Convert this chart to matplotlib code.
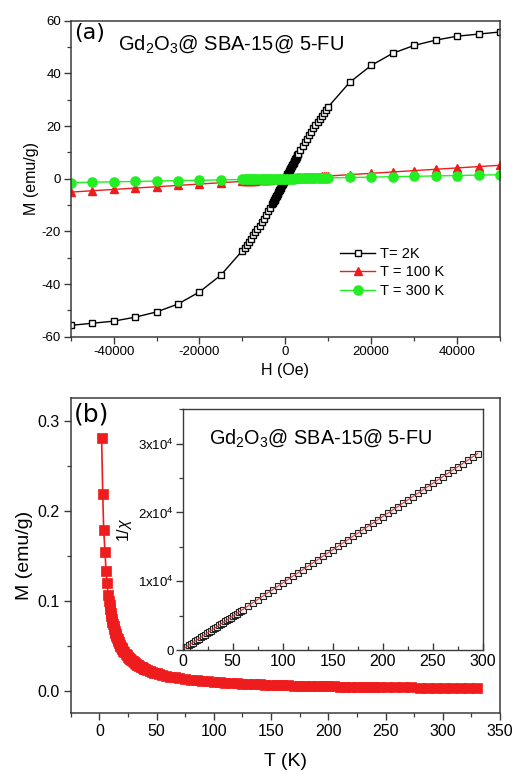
import matplotlib
matplotlib.use("Agg")
import matplotlib.pyplot as plt
from matplotlib.ticker import MultipleLocator, FixedLocator, FixedFormatter
import numpy as np

plt.rcParams['font.family'] = ['Liberation Sans', 'DejaVu Sans']
plt.rcParams['mathtext.fontset'] = 'custom'
plt.rcParams['mathtext.rm'] = 'Liberation Sans'
plt.rcParams['mathtext.it'] = 'Liberation Sans:italic'
plt.rcParams['axes.unicode_minus'] = False

#M-H loop at 2 K (Oe, emu/g)
H_2K = [-50000, -45000, -40000, -35000, -30000, -25000, -20000, -15000,
        -10000, -9500, -9000, -8500, -8000, -7500, -7000, -6500, -6000, -5500, -5000, -4500, -4000, -3500,
        -3000, -2900, -2800, -2700, -2600, -2500, -2400, -2300, -2200, -2100,
        -2000, -1900, -1800, -1700, -1600, -1500, -1400, -1300, -1200, -1100,
        -1000, -900, -800, -700, -600, -500, -400, -300, -200, -100, 0,
        100, 200, 300, 400, 500, 600, 700, 800, 900, 1000,
        1100, 1200, 1300, 1400, 1500, 1600, 1700, 1800, 1900, 2000,
        2100, 2200, 2300, 2400, 2500, 2600, 2700, 2800, 2900, 3000,
        3500, 4000, 4500, 5000, 5500, 6000, 6500, 7000, 7500, 8000, 8500, 9000, 9500, 10000,
        15000, 20000, 25000, 30000, 35000, 40000, 45000, 50000]
M_2K = [-55.7, -54.9, -54.1, -52.6, -50.6, -47.6, -43.0, -36.6,
        -27.3, -26.2, -25.05, -23.9, -22.75, -21.55, -20.35, -19.1, -17.85, -16.55, -15.2, -13.85, -12.45, -11.0,
        -9.50, -9.20, -8.89, -8.58, -8.27, -7.95, -7.64, -7.33, -7.02, -6.70,
        -6.39, -6.07, -5.75, -5.43, -5.12, -4.80, -4.48, -4.16, -3.84, -3.52,
        -3.20, -2.88, -2.56, -2.24, -1.92, -1.60, -1.28, -0.96, -0.64, -0.32, 0.0,
        0.32, 0.64, 0.96, 1.28, 1.60, 1.92, 2.24, 2.56, 2.88, 3.20,
        3.52, 3.84, 4.16, 4.48, 4.80, 5.12, 5.43, 5.75, 6.07, 6.39,
        6.70, 7.02, 7.33, 7.64, 7.95, 8.27, 8.58, 8.89, 9.20, 9.50,
        11.0, 12.45, 13.85, 15.2, 16.55, 17.85, 19.1, 20.35, 21.55, 22.75, 23.9, 25.05, 26.2, 27.3,
        36.6, 43.0, 47.6, 50.6, 52.6, 54.1, 54.9, 55.7]

#M-H at 100 K and 300 K share one field sweep
H_lin = [-50000, -45000, -40000, -35000, -30000, -25000, -20000, -15000,
         -10000, -9500, -9000, -8500, -8000, -7500, -7000, -6500, -6000, -5500,
         -5000, -4500, -4000, -3500, -3000, -2500, -2000, -1500, -1000, -500, 0,
         500, 1000, 1500, 2000, 2500, 3000, 3500, 4000, 4500, 5000,
         5500, 6000, 6500, 7000, 7500, 8000, 8500, 9000, 9500, 10000,
         15000, 20000, 25000, 30000, 35000, 40000, 45000, 50000]
M_100K = [-5.10, -4.59, -4.08, -3.57, -3.06, -2.55, -2.04, -1.53,
          -1.02, -0.97, -0.92, -0.87, -0.82, -0.77, -0.71, -0.66, -0.61, -0.56,
          -0.51, -0.46, -0.41, -0.36, -0.31, -0.26, -0.20, -0.15, -0.10, -0.05, 0.0,
          0.05, 0.10, 0.15, 0.20, 0.26, 0.31, 0.36, 0.41, 0.46, 0.51,
          0.56, 0.61, 0.66, 0.71, 0.77, 0.82, 0.87, 0.92, 0.97, 1.02,
          1.53, 2.04, 2.55, 3.06, 3.57, 4.08, 4.59, 5.10]
M_300K = [-1.50, -1.35, -1.20, -1.05, -0.90, -0.75, -0.60, -0.45,
          -0.30, -0.29, -0.27, -0.26, -0.24, -0.23, -0.21, -0.20, -0.18, -0.17,
          -0.15, -0.14, -0.12, -0.11, -0.09, -0.08, -0.06, -0.05, -0.03, -0.02, 0.0,
          0.02, 0.03, 0.05, 0.06, 0.08, 0.09, 0.11, 0.12, 0.14, 0.15,
          0.17, 0.18, 0.20, 0.21, 0.23, 0.24, 0.26, 0.27, 0.29, 0.30,
          0.45, 0.60, 0.75, 0.90, 1.05, 1.20, 1.35, 1.50]

#M-T curve (K, emu/g)
T_MT = [2.0, 3.0, 3.8, 5.0, 5.9, 6.7, 7.9, 8.5, 9, 9.5, 10, 10.5, 11, 11.5, 12,
        12.5, 13, 13.5, 14, 14.5, 15, 15.5, 16, 16.5, 17, 17.5, 18, 18.5, 19, 19.5, 20,
        21, 22, 23, 24, 25, 26, 27, 28, 29, 30, 31, 32, 33, 34, 35, 36, 37, 38, 39, 40,
        42, 44, 46, 48, 50, 52, 55, 58, 62, 66, 70, 75, 80, 85, 90, 95, 100,
        105, 110, 115, 120, 125, 130, 135, 140, 145, 150, 155, 160, 165, 170,
        175, 180, 185, 190, 195, 200, 205, 210, 215, 220, 225, 230, 235, 240,
        244, 251, 258, 265, 272, 280, 287, 294, 301, 308, 316, 323, 330]
M_MT = [0.281, 0.219, 0.179, 0.154, 0.133, 0.120, 0.106, 0.0998, 0.0951, 0.0908, 0.0869, 0.0833, 0.0800, 0.0769, 0.0741,
        0.0715, 0.0690, 0.0668, 0.0646, 0.0626, 0.0607, 0.0589, 0.0573, 0.0557, 0.0542, 0.0528, 0.0514, 0.0501, 0.0489, 0.0478, 0.0467,
        0.0446, 0.0427, 0.0410, 0.0394, 0.0379, 0.0365, 0.0352, 0.0341, 0.0329, 0.0319, 0.0309, 0.0300, 0.0291, 0.0283, 0.0275, 0.0268, 0.0261, 0.0255, 0.0248, 0.0242,
        0.0231, 0.0221, 0.0212, 0.0203, 0.0195, 0.0188, 0.0178, 0.0169, 0.0158, 0.0149, 0.0141, 0.0132, 0.0124, 0.0116, 0.0110, 0.0104, 0.0099,
        0.0095, 0.0090, 0.0086, 0.0083, 0.0080, 0.0077, 0.0074, 0.0071, 0.0069, 0.0066, 0.0064, 0.0062, 0.0061, 0.0059,
        0.0057, 0.0056, 0.0054, 0.0053, 0.0051, 0.0050, 0.0049, 0.0048, 0.0047, 0.0045, 0.0044, 0.0044, 0.0043, 0.0042,
        0.0041, 0.0040, 0.0039, 0.0038, 0.0037, 0.0036, 0.0035, 0.0034, 0.0033, 0.0033, 0.0032, 0.0031, 0.0030]

#inverse susceptibility for the inset
T_inv = [2, 4, 6, 8, 10, 12, 14, 16, 18, 20, 22, 24, 26, 28, 30, 32, 34, 36, 38, 40,
         42, 44, 46, 48, 50, 52, 54, 56, 58, 60,
         65, 70, 75, 80, 85, 90, 95, 100, 105, 110, 115, 120, 125, 130, 135, 140, 145, 150,
         155, 160, 165, 170, 175, 180, 185, 190, 195, 200, 205, 210, 215, 220, 225, 230,
         235, 240, 245, 250, 255, 260, 265, 270, 275, 280, 285, 290, 295]
chi_inv = [290, 490, 680, 870, 1070, 1260, 1450, 1640, 1840, 2030, 2220, 2420, 2610, 2800, 3000,
           3190, 3380, 3570, 3770, 3960, 4150, 4350, 4540, 4730, 4930, 5120, 5310, 5500, 5700, 5890,
           6370, 6860, 7340, 7820, 8300, 8790, 9270, 9750, 10230, 10720, 11200, 11680, 12160,
           12650, 13130, 13610, 14090, 14580, 15060, 15540, 16020, 16510, 16990, 17470, 17950,
           18440, 18920, 19400, 19880, 20370, 20850, 21330, 21810, 22300, 22780, 23260, 23740,
           24230, 24710, 25190, 25670, 26160, 26640, 27120, 27600, 28090, 28570]

inset_yticks = [0, 10000, 20000, 30000]
inset_ylabels = ['0', '1x10$^4$', '2x10$^4$', '3x10$^4$']

spine_col = '#3a3a3a'
red = '#ee1c1c'
green = '#22ee22'

fig = plt.figure(figsize=(5.16, 7.71), dpi=100)

def style(ax, lw=1.1):
    for s in ax.spines.values():
        s.set_color(spine_col)
        s.set_linewidth(lw)
    ax.tick_params(which='both', direction='out', color=spine_col, top=False, right=False)
    ax.tick_params(which='major', length=5, width=1.0)
    ax.tick_params(which='minor', length=3, width=0.9)

#(a) hysteresis loops
ax1 = fig.add_axes([0.137, 0.5633, 0.832, 0.4099])
ax1.plot(H_2K, M_2K, '-', color='black', lw=1.0, marker='s', ms=5,
         mfc='white', mec='black', mew=1.0, label='T= 2K')
ax1.plot(H_lin, M_100K, '-', color=red, lw=1.0, marker='^', ms=6.2,
         mfc=red, mec=red, label='T = 100 K')
ax1.plot(H_lin, M_300K, '-', color=green, lw=1.0, marker='o', ms=6.6,
         mfc=green, mec=green, label='T = 300 K')
ax1.set_xlim(-50000, 50000)
ax1.set_ylim(-60, 60)
ax1.xaxis.set_major_locator(MultipleLocator(20000))
ax1.xaxis.set_minor_locator(MultipleLocator(10000))
ax1.yaxis.set_major_locator(MultipleLocator(20))
ax1.yaxis.set_minor_locator(MultipleLocator(10))
style(ax1)
ax1.tick_params(labelsize=9.5, pad=2)
ax1.set_xlabel('H (Oe)', fontsize=11.5, labelpad=3)
ax1.set_ylabel('M (emu/g)', fontsize=11.5, labelpad=2)
ax1.text(0.008, 0.962, '(a)', transform=ax1.transAxes, fontsize=16,
         family='DejaVu Sans', va='center', ha='left')
ax1.text(0.11, 0.907, 'Gd$_2$O$_3$@ SBA-15@ 5-FU', transform=ax1.transAxes,
         fontsize=14.5, va='baseline', ha='left')
ax1.legend(loc='lower left', bbox_to_anchor=(0.611, 0.1), frameon=False, fontsize=10.5,
           handlelength=2.4, handletextpad=0.3, labelspacing=0.3, borderpad=0)

#(b) M vs T
ax2 = fig.add_axes([0.137, 0.0748, 0.832, 0.4086])
ax2.plot(T_MT, M_MT, '-', color=red, lw=1.2, marker='s', ms=7.2,
         mfc=red, mec=red, mew=0.5)
ax2.set_xlim(-25, 350)
ax2.set_ylim(-0.025, 0.325)
ax2.xaxis.set_major_locator(MultipleLocator(50))
ax2.xaxis.set_minor_locator(MultipleLocator(25))
ax2.yaxis.set_major_locator(MultipleLocator(0.1))
ax2.yaxis.set_minor_locator(MultipleLocator(0.05))
ax2.yaxis.set_major_formatter(plt.FormatStrFormatter('%.1f'))
style(ax2)
ax2.tick_params(labelsize=11.5, pad=3)
ax2.set_xlabel('T (K)', fontsize=14, labelpad=10)
ax2.set_ylabel('M (emu/g)', fontsize=14, labelpad=3)
ax2.text(0.008, 0.947, '(b)', transform=ax2.transAxes, fontsize=18,
         family='DejaVu Sans', va='center', ha='left')

#inset: 1/chi vs T with linear fit
ax3 = fig.add_axes([0.354, 0.1569, 0.5814, 0.3122])
z = np.polyfit(T_inv, chi_inv, 1)
p = np.poly1d(z)
ax3.plot(T_inv, chi_inv, 's', ms=4.0, mfc='#f4f0f0', mec='#222222', mew=0.8)
ax3.plot(T_inv, p(T_inv), '-', color='#d44040', lw=0.8)
ax3.set_xlim(0, 300)
ax3.set_ylim(0, 35000)
ax3.xaxis.set_major_locator(MultipleLocator(50))
ax3.xaxis.set_minor_locator(MultipleLocator(25))
ax3.yaxis.set_major_locator(FixedLocator(inset_yticks))
ax3.yaxis.set_major_formatter(FixedFormatter(inset_ylabels))
ax3.yaxis.set_minor_locator(MultipleLocator(5000))
style(ax3, lw=1.0)
ax3.tick_params(axis='x', which='both', direction='in')
ax3.tick_params(axis='x', labelsize=11.5, pad=3)
ax3.tick_params(axis='y', labelsize=9.5, pad=1.5)
ax3.set_ylabel('1/$\\chi$', fontsize=11.5, labelpad=3)
ax3.text(0.089, 0.859, 'Gd$_2$O$_3$@ SBA-15@ 5-FU', transform=ax3.transAxes,
         fontsize=14.3, va='baseline', ha='left')

fig.savefig('out.png', dpi=100)
